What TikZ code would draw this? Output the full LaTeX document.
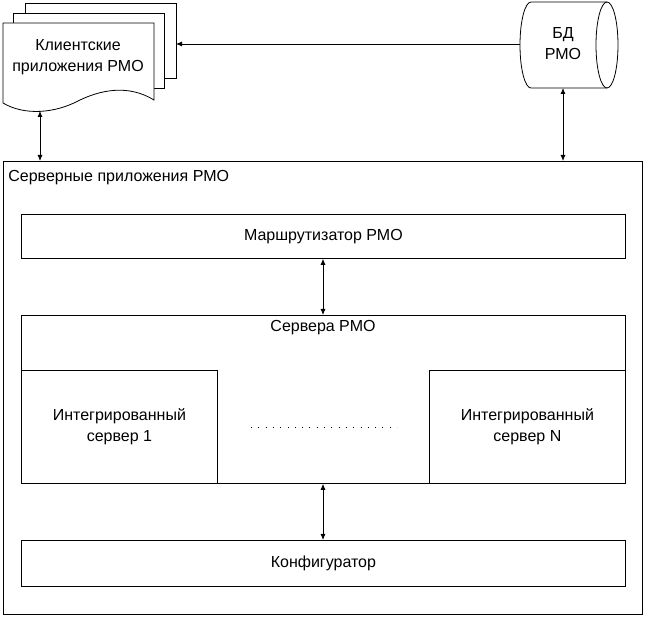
\documentclass[tikz,border=0pt]{standalone}
\usepackage{fontspec}
\setmainfont{Liberation Sans}
\usetikzlibrary{arrows.meta}
\begin{document}
\begin{tikzpicture}[x=1pt,y=-1pt,line width=0.8pt,
  every node/.style={font=\fontsize{16}{21}\selectfont},
  box/.style={draw,inner sep=0pt,anchor=north west},
  arr/.style={-{Latex[length=6pt,width=5pt]}},
  darr/.style={{Latex[length=6pt,width=5pt]}-{Latex[length=6pt,width=5pt]}}]
\useasboundingbox (0,0) rectangle (646,617);
% client document stack
\draw[fill=white] (25,3) rectangle (176,78);
\draw[fill=white] (13,13) rectangle (164,88);
\draw[fill=white] (3,23) -- (154,23) -- (154,100)
  .. controls (128,84) and (100,90) .. (78,101)
  .. controls (55,113) and (25,116) .. (3,103) -- cycle;
\node[align=center] (clients) at (78,57) {Клиентские\\приложения РМО};
\coordinate (docR) at (176,44);
\coordinate (docB) at (40,111);
% database cylinder
\draw[fill=white] (607,2) -- (531,2) arc[start angle=270,end angle=90,x radius=11,y radius=43] -- (607,88);
\draw (607,45) ellipse[x radius=11,y radius=43];
\node[align=center] (db) at (563,44) {БД\\РМО};
\coordinate (dbL) at (520,44);
\coordinate (dbB) at (563,88);
% server applications
\node[box,minimum width=639,minimum height=453] (outer) at (3,161) {};
\node[anchor=north west,inner sep=0pt] (outerlbl) at (8,170) {Серверные приложения РМО};
\node[box,minimum width=604,minimum height=44] (router) at (21,214) {};
\node (routerlbl) at (router.center) {Маршрутизатор РМО};
\node[box,minimum width=604,minimum height=168] (servers) at (21,315) {};
\node (serverslbl) at (323,328) {Сервера РМО};
\node[box,minimum width=196,minimum height=113,align=center] (s1) at (21,370) {Интегрированный\\сервер 1};
\node[box,minimum width=196,minimum height=113,align=center] (sN) at (429,370) {Интегрированный\\сервер N};
\coordinate (dotsL) at (251,428);
\coordinate (dotsR) at (397,428);
\draw[line width=1pt,dash pattern=on 1pt off 6.3pt] (dotsL) -- (dotsR);
\node[box,minimum width=604,minimum height=46] (conf) at (21,540) {};
\node (conflbl) at (conf.center) {Конфигуратор};
% connectors
\draw[arr] (dbL) -- (docR);
\draw[darr] (docB) -- (docB |- outer.north);
\draw[darr] (dbB) -- (dbB |- outer.north);
\draw[darr] (323,0 |- router.south) -- (323,0 |- servers.north);
\draw[darr] (323,0 |- servers.south) -- (323,0 |- conf.north);
\end{tikzpicture}
\end{document}
